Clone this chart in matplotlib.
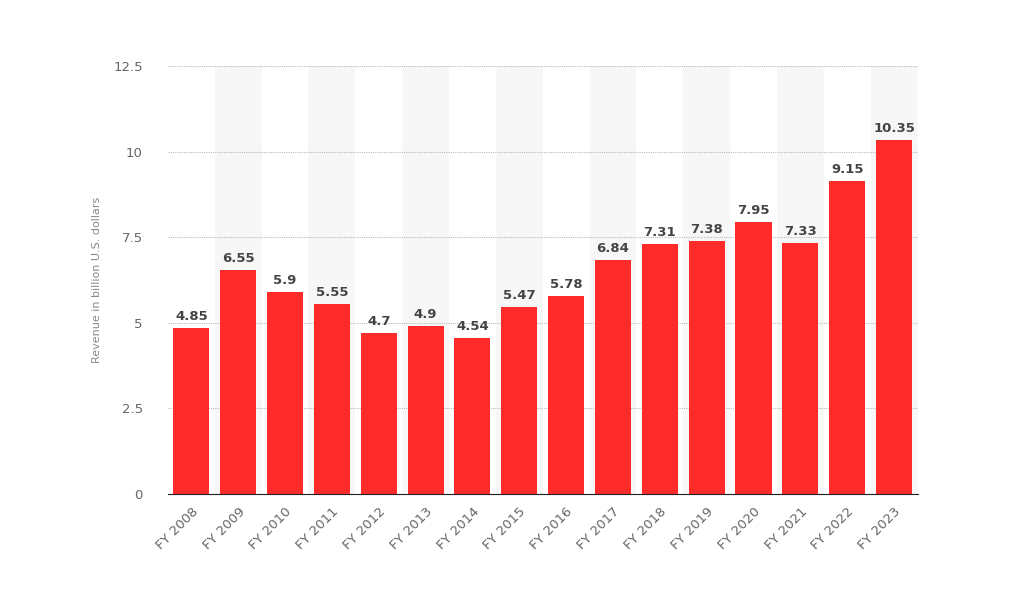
import matplotlib.pyplot as plt

years = ["FY 2008", "FY 2009", "FY 2010", "FY 2011", "FY 2012", "FY 2013", "FY 2014", "FY 2015",
         "FY 2016", "FY 2017", "FY 2018", "FY 2019", "FY 2020", "FY 2021", "FY 2022", "FY 2023"]
revenue = [4.85, 6.55, 5.9, 5.55, 4.7, 4.9, 4.54, 5.47, 5.78, 6.84, 7.31, 7.38, 7.95, 7.33, 9.15, 10.35]
yticks = [0, 2.5, 5, 7.5, 10, 12.5]
ytick_labels = ["0", "2.5", "5", "7.5", "10", "12.5"]

fig = plt.figure(figsize=(10.24, 6.06), dpi=100)
ax = fig.add_axes([0.164, 0.185, 0.732, 0.706])

x = range(len(years))
for i in x:
    if i % 2 == 1:
        ax.axvspan(i - 0.5, i + 0.5, color="#f7f7f7", zorder=0, lw=0)

bars = ax.bar(x, revenue, width=0.77, color="#ff2b2b", zorder=3)
for xi, v in zip(x, revenue):
    ax.text(xi, v + 0.15, f"{v:g}", ha="center", va="bottom", fontsize=9.5,
            fontweight="bold", color="#444444", zorder=4)

ax.set_xlim(-0.5, len(years) - 0.5)
ax.set_ylim(0, 12.5)
ax.set_yticks(yticks)
ax.set_yticklabels(ytick_labels)
ax.set_xticks(list(x))
ax.set_xticklabels(years, rotation=45, ha="right", rotation_mode="anchor")
ax.tick_params(axis="both", length=0, labelsize=9.5, colors="#666666")
ax.tick_params(axis="y", pad=18)
ax.tick_params(axis="x", pad=8)
ax.yaxis.grid(True, linestyle=(0, (1, 1)), color="#bbbbbb", linewidth=0.8, zorder=1)
for side in ["top", "right", "left"]:
    ax.spines[side].set_visible(False)
ax.spines["bottom"].set_color("#222222")
ax.spines["bottom"].set_zorder(5)
ax.set_ylabel("Revenue in billion U.S. dollars", fontsize=8, color="#888888", labelpad=8)

fig.savefig("out.png", dpi=100)
